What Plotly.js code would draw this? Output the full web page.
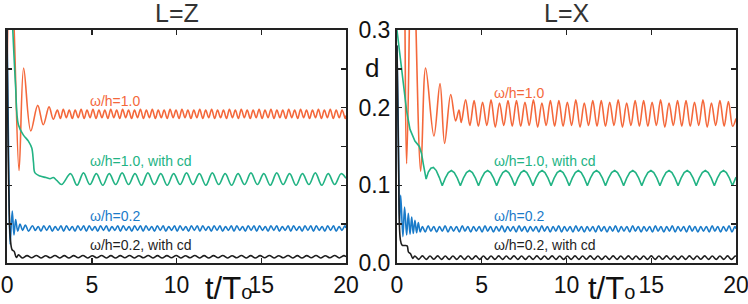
<!DOCTYPE html>
<html>
<head>
<meta charset="utf-8">
<script src="https://cdn.plot.ly/plotly-3.0.1.min.js"></script>
<style>html,body{margin:0;padding:0;background:#fff;}#chart{width:748px;height:304px;}</style>
</head>
<body>
<div id="chart"></div>
<script>
// ---------- axis ticks ----------
const xTicks = [0, 5, 10, 15, 20];
const xTickText = ['0', '5', '10', '15', '20'];
const yTicks = [0, 0.05, 0.1, 0.15, 0.2, 0.25, 0.3];
const yTickText = ['0.0', '', '0.1', '', '0.2', '', '0.3'];

// ---------- panel L=Z ----------
const tOrangeZ = [
0,0.2,0.42,0.71,0.98,1.40,1.81,2.14,2.48,2.73,
2.97,3.15,3.32,3.50,3.67,3.85,4.02,4.20,4.37,4.55,
4.72,4.90,5.07,5.25,5.42,5.60,5.77,5.95,6.12,6.30,
6.47,6.65,6.82,7.00,7.17,7.35,7.52,7.70,7.87,8.05,
8.22,8.40,8.57,8.75,8.92,9.10,9.27,9.45,9.62,9.80,
9.97,10.15,10.32,10.50,10.67,10.85,11.02,11.20,11.37,11.55,
11.72,11.90,12.07,12.25,12.42,12.60,12.77,12.95,13.12,13.30,
13.47,13.65,13.82,14.00,14.17,14.35,14.52,14.70,14.87,15.05,
15.22,15.40,15.57,15.75,15.92,16.10,16.27,16.45,16.62,16.80,
16.97,17.15,17.32,17.50,17.67,17.85,18.02,18.20,18.37,18.55,
18.72,18.90,19.07,19.25,19.42,19.60,19.77,19.95,20.00];
const dOrangeZ = [
0.245,0.42,0.30,0.119,0.251,0.170,0.203,0.178,0.201,0.185,
0.197,0.186,0.198,0.187,0.197,0.186,0.197,0.187,0.198,0.186,
0.197,0.187,0.198,0.186,0.197,0.187,0.197,0.186,0.198,0.187,
0.197,0.186,0.198,0.187,0.197,0.186,0.197,0.187,0.198,0.186,
0.197,0.187,0.198,0.186,0.197,0.187,0.197,0.186,0.198,0.187,
0.197,0.186,0.198,0.187,0.197,0.186,0.197,0.187,0.198,0.186,
0.197,0.187,0.198,0.186,0.197,0.187,0.197,0.186,0.198,0.187,
0.197,0.186,0.198,0.187,0.197,0.186,0.197,0.187,0.198,0.186,
0.197,0.187,0.198,0.186,0.197,0.187,0.197,0.186,0.198,0.187,
0.197,0.186,0.198,0.187,0.197,0.186,0.197,0.187,0.198,0.186,
0.197,0.187,0.198,0.186,0.197,0.187,0.197,0.186,0.190];

const tGreenZ = [
0,0.15,0.34,0.5,0.67,0.96,1.26,1.46,1.56,1.65,1.95,2.3,2.54,2.73,2.95,
3.22,3.75,4.13,4.51,4.89,5.27,5.65,6.03,6.41,6.79,
7.17,7.55,7.93,8.31,8.69,9.07,9.45,9.83,10.21,10.59,
10.97,11.35,11.73,12.11,12.49,12.87,13.25,13.63,14.01,14.39,
14.77,15.15,15.53,15.91,16.29,16.67,17.05,17.43,17.81,18.19,
18.57,18.95,19.33,19.71,20.00];
const dGreenZ = [
0.50,0.40,0.30,0.23,0.178,0.165,0.157,0.148,0.13,0.116,0.112,0.110,0.1085,0.110,0.106,
0.101,0.115,0.100,0.116,0.101,0.115,0.100,0.115,0.101,0.116,
0.101,0.115,0.100,0.116,0.101,0.115,0.100,0.115,0.101,0.116,
0.101,0.115,0.100,0.116,0.101,0.115,0.100,0.115,0.101,0.116,
0.101,0.115,0.100,0.116,0.101,0.115,0.100,0.115,0.101,0.116,
0.100,0.115,0.101,0.115,0.109];

const tBlueZ0 = [0,0.1,0.18,0.31,0.41,0.51,0.63,0.77,0.92,1.08,1.27];
const dBlueZ0 = [0.30,0.13,0.024,0.067,0.036,0.056,0.041,0.050,0.042,0.049,0.041];

// shared sample times of the steady part of the two ω/h=0.2 curves
const tBlue = [
1.50,1.67,1.84,2.00,2.17,2.34,2.51,2.67,2.84,3.01,
3.18,3.34,3.51,3.68,3.85,4.01,4.18,4.35,4.52,4.68,
4.85,5.02,5.19,5.35,5.52,5.69,5.86,6.02,6.19,6.36,
6.53,6.69,6.86,7.03,7.20,7.36,7.53,7.70,7.87,8.03,
8.20,8.37,8.54,8.70,8.87,9.04,9.21,9.37,9.54,9.71,
9.88,10.04,10.21,10.38,10.55,10.71,10.88,11.05,11.22,11.38,
11.55,11.72,11.89,12.05,12.22,12.39,12.56,12.72,12.89,13.06,
13.23,13.39,13.56,13.73,13.90,14.06,14.23,14.40,14.57,14.73,
14.90,15.07,15.24,15.40,15.57,15.74,15.91,16.07,16.24,16.41,
16.58,16.74,16.91,17.08,17.25,17.41,17.58,17.75,17.92,18.08,
18.25,18.42,18.59,18.75,18.92,19.09,19.26,19.42,19.59,19.76,
19.93,20.00];
const dBlueZ = [
0.048,0.042,0.047,0.041,0.048,0.042,0.048,0.041,0.047,0.042,
0.048,0.041,0.048,0.042,0.047,0.041,0.048,0.042,0.048,0.041,
0.048,0.042,0.047,0.041,0.048,0.042,0.048,0.041,0.047,0.042,
0.048,0.041,0.048,0.042,0.047,0.041,0.048,0.042,0.048,0.041,
0.048,0.042,0.047,0.041,0.048,0.042,0.048,0.041,0.047,0.042,
0.048,0.041,0.048,0.042,0.047,0.041,0.048,0.042,0.048,0.041,
0.048,0.042,0.047,0.041,0.048,0.042,0.048,0.041,0.047,0.042,
0.048,0.041,0.048,0.042,0.047,0.041,0.048,0.042,0.048,0.041,
0.048,0.042,0.047,0.041,0.048,0.042,0.048,0.041,0.047,0.042,
0.048,0.041,0.048,0.042,0.047,0.041,0.048,0.042,0.048,0.041,
0.048,0.042,0.047,0.041,0.048,0.042,0.048,0.041,0.047,0.042,
0.048,0.045];

const tBlackZ = [
0,0.1,0.2,0.3,0.42,0.55,0.68,
0.90,1.18,1.45,1.73,2.00,2.28,2.55,2.83,3.10,3.38,
3.65,3.93,4.20,4.48,4.75,5.03,5.30,5.58,5.85,6.13,
6.40,6.68,6.95,7.23,7.50,7.78,8.05,8.33,8.60,8.88,
9.15,9.43,9.70,9.98,10.25,10.53,10.80,11.08,11.35,11.63,
11.90,12.18,12.45,12.73,13.00,13.28,13.55,13.83,14.10,14.38,
14.65,14.93,15.20,15.48,15.75,16.03,16.30,16.58,16.85,17.13,
17.40,17.68,17.95,18.23,18.50,18.78,19.05,19.33,19.60,19.88,
20.00];
const dBlackZ = [
0.30,0.10,0.03,0.017,0.015,0.007,0.0105,
0.0065,0.0095,0.0068,0.0097,0.0065,0.0094,0.0067,0.0096,0.0065,0.0095,
0.0065,0.0095,0.0068,0.0097,0.0065,0.0094,0.0067,0.0096,0.0065,0.0095,
0.0065,0.0095,0.0068,0.0097,0.0065,0.0094,0.0067,0.0096,0.0065,0.0095,
0.0065,0.0095,0.0068,0.0097,0.0065,0.0094,0.0067,0.0096,0.0065,0.0095,
0.0065,0.0095,0.0068,0.0097,0.0065,0.0094,0.0067,0.0096,0.0065,0.0095,
0.0065,0.0095,0.0068,0.0097,0.0065,0.0094,0.0067,0.0096,0.0065,0.0095,
0.0065,0.0095,0.0068,0.0097,0.0065,0.0094,0.0067,0.0096,0.0065,0.0095,
0.008];

// ---------- panel L=X ----------
const tOrangeX = [
0,0.3,0.57,0.9,1.40,1.69,2.18,2.54,2.81,3.17,3.46,3.66,3.79,4.05,4.30,
4.55,4.80,5.05,5.30,5.55,5.80,6.05,6.30,6.55,6.80,
7.05,7.30,7.55,7.80,8.05,8.30,8.55,8.80,9.05,9.30,
9.55,9.80,10.05,10.30,10.55,10.80,11.05,11.30,11.55,11.80,
12.05,12.30,12.55,12.80,13.05,13.30,13.55,13.80,14.05,14.30,
14.55,14.80,15.05,15.30,15.55,15.80,16.05,16.30,16.55,16.80,
17.05,17.30,17.55,17.80,18.05,18.30,18.55,18.80,19.05,19.30,
19.55,19.80,20.00];
const dOrangeX = [
0.55,0.50,0.128,0.45,0.118,0.251,0.1635,0.231,0.154,0.217,0.183,0.197,0.181,0.210,0.177,
0.209,0.176,0.207,0.177,0.210,0.175,0.206,0.177,0.209,0.176,
0.209,0.176,0.207,0.177,0.210,0.175,0.206,0.177,0.209,0.176,
0.209,0.176,0.207,0.177,0.210,0.175,0.206,0.177,0.209,0.176,
0.209,0.176,0.207,0.177,0.210,0.175,0.206,0.177,0.209,0.176,
0.209,0.176,0.207,0.177,0.210,0.175,0.206,0.177,0.209,0.176,
0.209,0.176,0.207,0.177,0.210,0.175,0.206,0.177,0.209,0.176,
0.208,0.176,0.186];

const tGreenX = [
0,0.2,0.37,0.57,0.77,1.06,1.32,1.45,1.55,1.64,1.72,1.85,2.0,2.15,2.32,2.5,
2.67,2.85,3.03,3.21,3.38,3.56,
3.74,3.92,4.10,4.28,4.45,4.63,
4.81,4.99,5.17,5.35,5.52,5.70,
5.88,6.06,6.24,6.42,6.59,6.77,
6.95,7.13,7.31,7.49,7.66,7.84,
8.02,8.20,8.38,8.56,8.73,8.91,
9.09,9.27,9.45,9.63,9.80,9.98,
10.16,10.34,10.52,10.70,10.87,11.05,
11.23,11.41,11.59,11.77,11.94,12.12,
12.30,12.48,12.66,12.84,13.01,13.19,
13.37,13.55,13.73,13.91,14.08,14.26,
14.44,14.62,14.80,14.98,15.15,15.33,
15.51,15.69,15.87,16.05,16.22,16.40,
16.58,16.76,16.94,17.12,17.29,17.47,
17.65,17.83,18.01,18.19,18.36,18.54,
18.72,18.90,19.08,19.26,19.43,19.61,
19.79,20.00];
const dGreenX = [
0.300,0.265,0.232,0.196,0.172,0.157,0.150,0.141,0.128,0.115,0.108,0.117,0.122,0.123,0.119,0.110,
0.0995,0.1093,0.1164,0.119,0.1164,0.1093,
0.0995,0.1093,0.1164,0.119,0.1164,0.1093,
0.0995,0.1093,0.1164,0.119,0.1164,0.1093,
0.0995,0.1093,0.1164,0.119,0.1164,0.1093,
0.0995,0.1093,0.1164,0.119,0.1164,0.1093,
0.0995,0.1093,0.1164,0.119,0.1164,0.1093,
0.0995,0.1093,0.1164,0.119,0.1164,0.1093,
0.0995,0.1093,0.1164,0.119,0.1164,0.1093,
0.0995,0.1093,0.1164,0.119,0.1164,0.1093,
0.0995,0.1093,0.1164,0.119,0.1164,0.1093,
0.0995,0.1093,0.1164,0.119,0.1164,0.1093,
0.0995,0.1093,0.1164,0.119,0.1164,0.1093,
0.0995,0.1093,0.1164,0.119,0.1164,0.1093,
0.0995,0.1093,0.1164,0.119,0.1164,0.1093,
0.0995,0.1093,0.1164,0.119,0.1164,0.1093,
0.0995,0.1093,0.1164,0.119,0.1164,0.1093,
0.0995,0.1105];

const tBlueX0 = [0,0.08,0.15,0.22,0.35,0.45,0.57,0.67,0.77,0.87,0.96,1.06,1.16,1.26,1.37];
const dBlueX0 = [0.28,0.17,0.05,0.087,0.034,0.072,0.036,0.064,0.037,0.059,0.038,0.055,0.039,0.052,0.040];
const dBlueX = [
0.047,0.040,0.048,0.041,0.047,0.040,0.047,0.041,0.048,0.040,
0.047,0.041,0.047,0.040,0.048,0.041,0.047,0.040,0.047,0.041,
0.047,0.040,0.048,0.041,0.047,0.040,0.047,0.041,0.048,0.040,
0.047,0.041,0.047,0.040,0.048,0.041,0.047,0.040,0.047,0.041,
0.047,0.040,0.048,0.041,0.047,0.040,0.047,0.041,0.048,0.040,
0.047,0.041,0.047,0.040,0.048,0.041,0.047,0.040,0.047,0.041,
0.047,0.040,0.048,0.041,0.047,0.040,0.047,0.041,0.048,0.040,
0.047,0.041,0.047,0.040,0.048,0.041,0.047,0.040,0.047,0.041,
0.047,0.040,0.048,0.041,0.047,0.040,0.047,0.041,0.048,0.040,
0.047,0.041,0.047,0.040,0.048,0.041,0.047,0.040,0.047,0.041,
0.047,0.040,0.048,0.041,0.047,0.040,0.047,0.041,0.048,0.040,
0.047,0.044];

const tBlackX = [
0,0.1,0.2,0.3,0.45,0.6,0.68,0.8,0.93,
1.05,1.28,1.50,1.73,1.95,2.18,2.40,2.63,2.85,3.08,
3.30,3.53,3.75,3.98,4.20,4.43,4.65,4.88,5.10,5.33,
5.55,5.78,6.00,6.23,6.45,6.68,6.90,7.13,7.35,7.58,
7.80,8.03,8.25,8.48,8.70,8.93,9.15,9.38,9.60,9.83,
10.05,10.28,10.50,10.73,10.95,11.18,11.40,11.63,11.85,12.08,
12.30,12.53,12.75,12.98,13.20,13.43,13.65,13.88,14.10,14.33,
14.55,14.78,15.00,15.23,15.45,15.68,15.90,16.13,16.35,16.58,
16.80,17.03,17.25,17.48,17.70,17.93,18.15,18.38,18.60,18.83,
19.05,19.28,19.50,19.73,19.95,20.00];
const dBlackX = [
0.28,0.12,0.03,0.023,0.0225,0.022,0.014,0.012,0.006,
0.0090,0.0047,0.0092,0.0046,0.0089,0.0048,0.0091,0.0047,0.0090,0.0046,
0.0090,0.0047,0.0092,0.0046,0.0089,0.0048,0.0091,0.0047,0.0090,0.0046,
0.0090,0.0047,0.0092,0.0046,0.0089,0.0048,0.0091,0.0047,0.0090,0.0046,
0.0090,0.0047,0.0092,0.0046,0.0089,0.0048,0.0091,0.0047,0.0090,0.0046,
0.0090,0.0047,0.0092,0.0046,0.0089,0.0048,0.0091,0.0047,0.0090,0.0046,
0.0090,0.0047,0.0092,0.0046,0.0089,0.0048,0.0091,0.0047,0.0090,0.0046,
0.0090,0.0047,0.0092,0.0046,0.0089,0.0048,0.0091,0.0047,0.0090,0.0046,
0.0090,0.0047,0.0092,0.0046,0.0089,0.0048,0.0091,0.0047,0.0090,0.0046,
0.0090,0.0047,0.0091,0.0046,0.0090,0.0085];

// ---------- labels ----------
const seriesLabels = ['ω/h=1.0', 'ω/h=1.0, with cd', 'ω/h=0.2', 'ω/h=0.2, with cd'];
const panelTitles = ['L=Z', 'L=X'];
const yTitle = 'd';
const xTitle = 't/T<span style="font-size:20px">o</span>';

// ---------- styling ----------
const ORANGE = '#F4683B', GREEN = '#22B384', BLUE = '#1A7BC9', BLACK = '#1E1E1E';
const FONT = 'Arial, "Liberation Sans", Helvetica, sans-serif';

function line(x, y, color, xa, ya, shape) {
  return {x: x, y: y, type: 'scatter', mode: 'lines', xaxis: xa, yaxis: ya,
          line: {color: color, width: 1.6, shape: shape, smoothing: 1},
          hoverinfo: 'skip', showlegend: false};
}

const traces = [
  line(tOrangeZ, dOrangeZ, ORANGE, 'x', 'y', 'spline'),
  line(tGreenZ, dGreenZ, GREEN, 'x', 'y', 'spline'),
  line(tBlueZ0.concat(tBlue), dBlueZ0.concat(dBlueZ), BLUE, 'x', 'y', 'spline'),
  line(tBlackZ, dBlackZ, BLACK, 'x', 'y', 'spline'),
  line(tOrangeX, dOrangeX, ORANGE, 'x2', 'y2', 'spline'),
  line(tGreenX, dGreenX, GREEN, 'x2', 'y2', 'linear'),
  line(tBlueX0.concat(tBlue), dBlueX0.concat(dBlueX), BLUE, 'x2', 'y2', 'spline'),
  line(tBlackX, dBlackX, BLACK, 'x2', 'y2', 'spline')
];

const yDom = [0.1349, 0.9013];
function xAxis(dom, anchor) {
  return {domain: dom, anchor: anchor, range: [0, 20], tickvals: xTicks, ticktext: xTickText,
          ticks: 'inside', ticklen: 5, tickwidth: 1.5, tickcolor: '#222',
          showline: true, linecolor: '#222', linewidth: 2, mirror: 'ticks',
          ticklabeloverflow: 'allow',
          showgrid: false, zeroline: false, tickfont: {family: FONT, size: 23, color: '#111'}};
}
function yAxis(anchor, labels) {
  return {domain: yDom, anchor: anchor, range: [0, 0.3], tickvals: yTicks, ticktext: yTickText,
          showticklabels: labels, ticks: 'inside', ticklen: 5, tickwidth: 1.5, tickcolor: '#222',
          showline: true, linecolor: '#222', linewidth: 2, mirror: 'ticks',
          ticklabeloverflow: 'allow',
          showgrid: false, zeroline: false, tickfont: {family: FONT, size: 23, color: '#111'}};
}

const labelColors = [ORANGE, GREEN, BLUE, BLACK];
const labelY = [0.669, 0.471, 0.290, 0.194];
const labelYX = [0.694, 0.471, 0.290, 0.194];
const annotations = [];
seriesLabels.forEach(function (s, i) {
  annotations.push({xref: 'paper', yref: 'paper', x: 0.1176, y: labelY[i], xanchor: 'left', yanchor: 'middle',
    text: s, showarrow: false, font: {family: FONT, size: 14, color: labelColors[i]}});
  annotations.push({xref: 'paper', yref: 'paper', x: 0.6578, y: labelYX[i], xanchor: 'left', yanchor: 'middle',
    text: s, showarrow: false, font: {family: FONT, size: 14, color: labelColors[i]}});
});
annotations.push({xref: 'paper', yref: 'paper', x: 0.236, y: 0.957, xanchor: 'center', yanchor: 'middle',
  text: panelTitles[0], showarrow: false, font: {family: FONT, size: 25, color: '#333'}});
annotations.push({xref: 'paper', yref: 'paper', x: 0.758, y: 0.957, xanchor: 'center', yanchor: 'middle',
  text: panelTitles[1], showarrow: false, font: {family: FONT, size: 25, color: '#333'}});
annotations.push({xref: 'paper', yref: 'paper', x: 0.4973, y: 0.776, xanchor: 'center', yanchor: 'middle',
  text: yTitle, showarrow: false, font: {family: FONT, size: 26, color: '#111'}});
annotations.push({xref: 'paper', yref: 'paper', x: 0.3055, y: 0.052, xanchor: 'center', yanchor: 'middle',
  text: xTitle, showarrow: false, font: {family: FONT, size: 31, color: '#111'}});
annotations.push({xref: 'paper', yref: 'paper', x: 0.818, y: 0.052, xanchor: 'center', yanchor: 'middle',
  text: xTitle, showarrow: false, font: {family: FONT, size: 31, color: '#111'}});

const layout = {
  width: 748, height: 304,
  margin: {l: 0, r: 0, t: 0, b: 0, pad: 0},
  paper_bgcolor: '#ffffff', plot_bgcolor: '#ffffff',
  showlegend: false,
  font: {family: FONT, color: '#111'},
  xaxis: xAxis([0.0094, 0.4626], 'y'),
  yaxis: yAxis('x', false),
  xaxis2: xAxis([0.5307, 0.9840], 'y2'),
  yaxis2: yAxis('x2', true),
  annotations: annotations
};

Plotly.newPlot('chart', traces, layout, {staticPlot: true, displayModeBar: false});
</script>
</body>
</html>
